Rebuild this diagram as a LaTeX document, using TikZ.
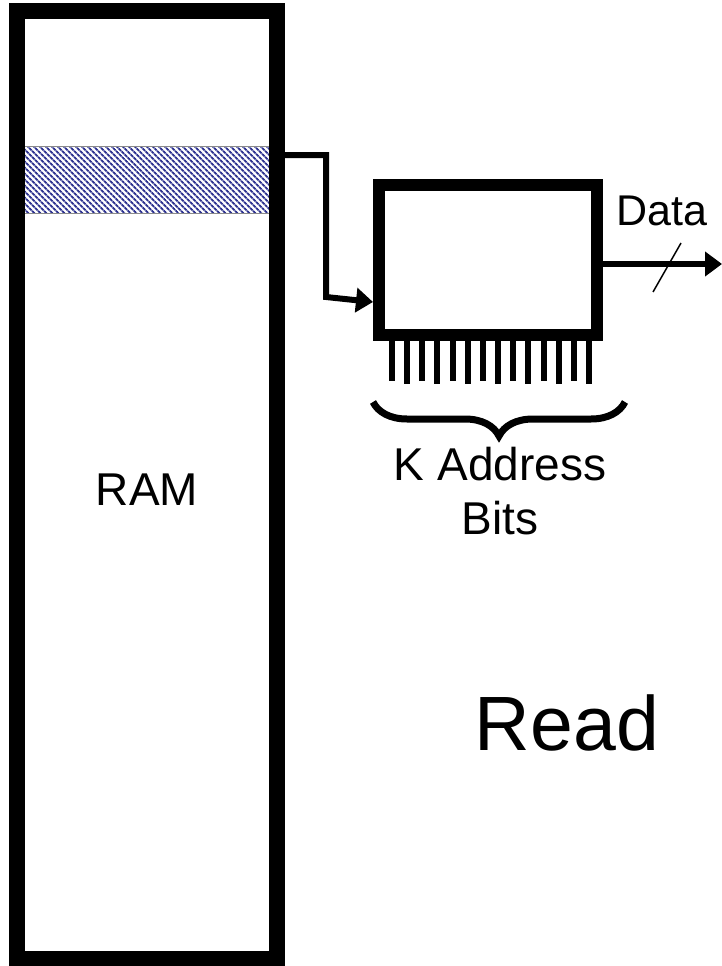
\documentclass[tikz,border=0pt]{standalone}
\usepackage{fontspec}
\setmainfont{Liberation Sans}
\usetikzlibrary{positioning, arrows.meta, calc, patterns.meta, decorations.pathreplacing}
\definecolor{hatchblue}{HTML}{2E3390}
\definecolor{bandedge}{HTML}{8A8A8A}

\tikzset{
  memblock/.style={draw=black, line width=16pt, minimum width=260pt, minimum height=948pt, inner sep=0pt},
  rowband/.style={draw=bandedge, line width=1pt, minimum width=254pt, minimum height=67pt, inner sep=0pt,
    pattern={Lines[angle=-45, distance=4pt, line width=2pt]}, pattern color=hatchblue},
  chipbox/.style={draw=black, line width=12pt, fill=white, minimum width=218pt, minimum height=150pt, inner sep=0pt},
  wire/.style={line width=6pt, -{Triangle[length=17pt, width=24pt]}},
  bigtext/.style={font=\fontsize{46}{54}\selectfont, inner sep=0pt}
}

\begin{document}
\begin{tikzpicture}[x=1pt, y=-1pt]
    \useasboundingbox (0,0) rectangle (722,966);
    % memory array with the selected row
    \node[rowband] (row) at (146,179.5) {};
    \node[memblock] (ram) at (147,485) {};
    \node[bigtext, anchor=base] (ramlabel) at (147,505) {RAM};
    % buffer chip
    \node[chipbox] (chip) at (488,260) {};
    \foreach \i in {0,...,13} {
      \pgfmathsetmacro{\pinlen}{ifthenelse(mod(\i,2)==0, 41, 44)}
      \draw[line width=6pt] ($(chip.south west)+(19+\i*15.15,-1)$) -- ++(0,\pinlen);
    }
    % row -> chip
    \coordinate (tap) at (285,155);
    \coordinate (turn) at (326,297);
    \coordinate (entry) at (373,302);
    \draw[wire] (ram.east |- tap) -| (turn) -- (chip.west |- entry);
    % data out
    \coordinate (dataend) at (722,264);
    \draw[wire] (chip.east |- dataend) -- (dataend);
    \draw[line width=1.5pt] (653,292) -- (681,243);
    \node[font=\fontsize{43}{50}\selectfont, inner sep=0pt, anchor=base] (datalabel) at (662,225) {Data};
    % address bits
    \coordinate (bl) at (373,402);
    \coordinate (br) at (625,402);
    \draw[line width=7pt, decorate, decoration={brace, amplitude=34pt, mirror}] (bl) -- (br);
    \node[bigtext, align=center, anchor=north] (addr) at (500,447) {K Address\\Bits};
    \node[font=\fontsize{77}{90}\selectfont, inner sep=0pt, anchor=base] (mode) at (567,750) {Read};
  \end{tikzpicture}
\end{document}
